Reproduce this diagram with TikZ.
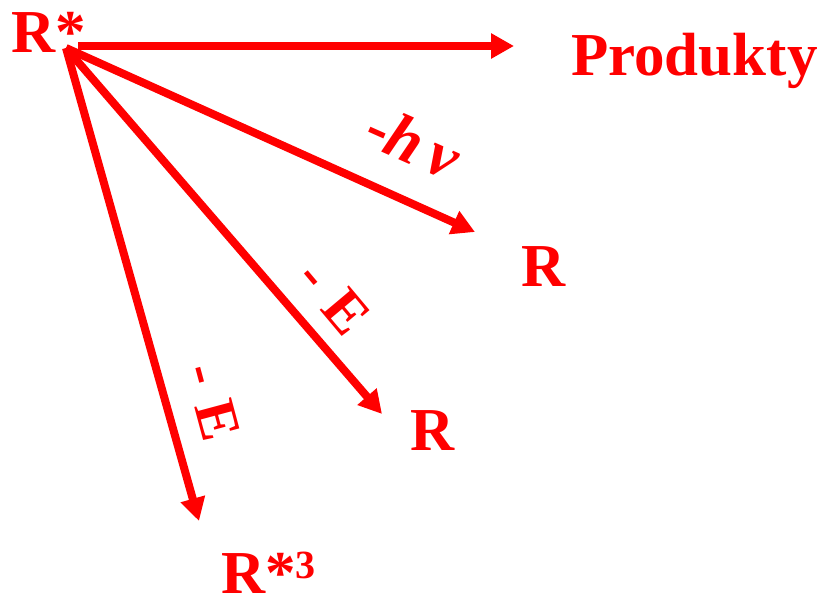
\documentclass[tikz,border=0pt]{standalone}
\usepackage{fontspec}
\setmainfont{Liberation Serif}
\usetikzlibrary{arrows.meta}
\definecolor{lbl}{RGB}{255,0,0}
\tikzset{
  arr/.style={draw=lbl, line width=8pt, -{Triangle[length=23pt,width=24pt]}},
  txt/.style={text=lbl, inner sep=0pt, font=\bfseries\fontsize{61}{62}\selectfont},
  rtxt/.style={text=lbl, inner sep=0pt, font=\bfseries\fontsize{58}{60}\selectfont}
}
\begin{document}
\begin{tikzpicture}[x=1pt,y=-1pt]
\useasboundingbox (0,0) rectangle (823,601);
% labels
\node[txt, anchor=base west] (rs) at (11,53) {R*};
\node[txt, anchor=base west] (prod) at (571,76) {Produkty};
\node[txt, anchor=base west] (r1) at (521,287) {R};
\node[txt, anchor=base west] (r2) at (410,451) {R};
\node[txt, anchor=base west] (r3) at (221,594) {R*{\fontsize{40}{40}\selectfont\raisebox{15pt}{3}}};
% rotated labels
\node[rtxt, rotate=-24, font=\bfseries\fontsize{64}{64}\selectfont] (hv) at (414,142) {-\textit{h}\,\textit{ν}};
\node[rtxt, rotate=-50] (e1) at (334,297) {-\,\,E};
\node[rtxt, rotate=-75] (e2) at (213,402) {-\,\,E};
% connectors
\coordinate (h0) at (78,46);
\coordinate (h1) at (514,46);
\coordinate (o) at (66,48);
\coordinate (t1) at (475,232);
\coordinate (t2) at (382,414);
\coordinate (t3) at (199,521);
\draw[arr] (h0) -- (h1);
\draw[arr] (o) -- (t1);
\draw[arr] (o) -- (t2);
\draw[arr] (o) -- (t3);
\end{tikzpicture}
\end{document}
